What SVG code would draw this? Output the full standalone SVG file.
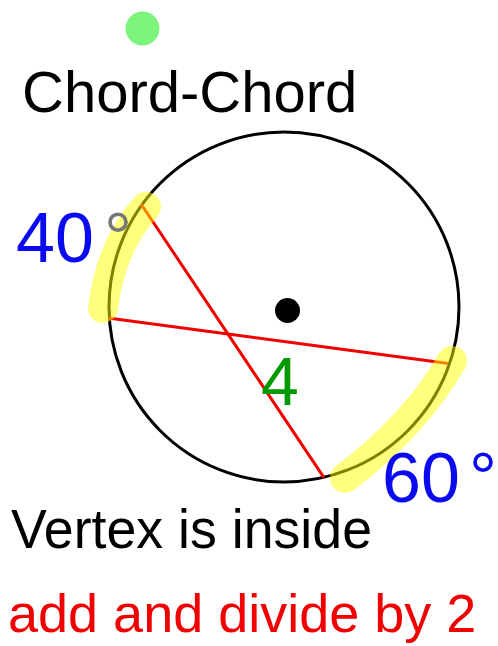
<svg xmlns="http://www.w3.org/2000/svg" width="498" height="646" viewBox="0 0 498 646">
<style>
.t{font-family:"Liberation Sans",Arial,sans-serif}
.chord{stroke:#f00000;stroke-width:3;fill:none;stroke-linecap:round}
.hl{stroke:#ffff00;stroke-opacity:0.5;stroke-width:30;fill:none;stroke-linecap:round;stroke-linejoin:round}
.blue{fill:#0a0af0}
</style>
<rect width="498" height="646" fill="#ffffff"/>
<g id="green-dot"><circle cx="142.5" cy="28.5" r="17" fill="#7df57d"/></g>
<g id="title"><text class="t" x="22" y="112" font-size="58" fill="#000">Chord-Chord</text></g>
<g id="circle">
<circle cx="284" cy="307" r="175" fill="none" stroke="#000" stroke-width="3"/>
<circle cx="287.5" cy="310.5" r="12.5" fill="#000"/>
</g>
<g id="connectors">
<line class="chord" x1="141.7" y1="205" x2="323.3" y2="476.7"/>
<line class="chord" x1="110" y1="318.3" x2="446.7" y2="363.3"/>
</g>
<g id="highlights">
<path class="hl" d="M146 207 Q111 245 103 308"/>
<path class="hl" d="M452 361 Q415 425 345 478"/>
</g>
<g id="label-40"><text class="t" y="262" font-size="70"><tspan class="blue" x="16">40</tspan><tspan x="104" fill="#777777">°</tspan></text></g>
<g id="label-60"><text class="t blue" y="502" font-size="70"><tspan x="382">60</tspan><tspan x="469">°</tspan></text></g>
<g id="label-4"><text class="t" x="261" y="405" font-size="68" fill="#009900">4</text></g>
<g id="vertex"><text class="t" x="11" y="548" font-size="55" fill="#000" textLength="361" lengthAdjust="spacingAndGlyphs">Vertex is inside</text></g>
<g id="rule"><text class="t" x="8" y="632" font-size="54" fill="#f00000">add and divide by 2</text></g>
</svg>
